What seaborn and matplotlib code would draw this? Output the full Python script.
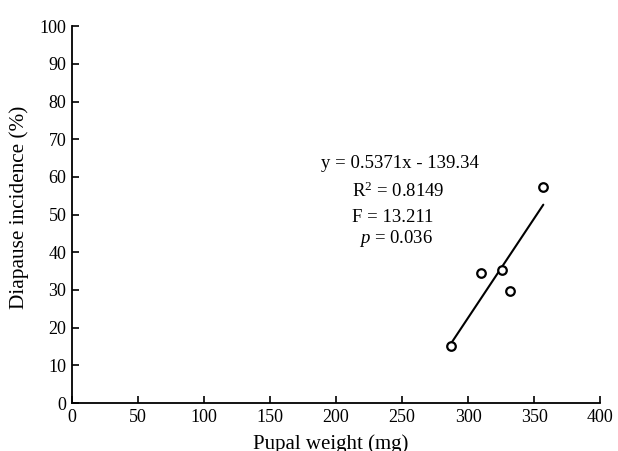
import matplotlib
matplotlib.use("Agg")
import matplotlib.pyplot as plt
import seaborn as sns
import pandas as pd

pupal_weight = [287, 310, 326, 332, 357]
diapause = [15.2, 34.6, 35.2, 29.7, 57.3]
x_ticks = [0, 50, 100, 150, 200, 250, 300, 350, 400]
y_ticks = [0, 10, 20, 30, 40, 50, 60, 70, 80, 90, 100]
eq_lines = ["y = 0.5371x - 139.34", "R$^{2}$ = 0.8149", "F = 13.211", "$p$ = 0.036"]

sns.set_style("ticks")
plt.rcParams['font.family'] = ['Liberation Serif', 'DejaVu Serif']
plt.rcParams['text.color'] = 'black'
plt.rcParams['axes.labelcolor'] = 'black'
plt.rcParams['mathtext.fontset'] = 'custom'
plt.rcParams['mathtext.rm'] = 'Liberation Serif'
plt.rcParams['mathtext.it'] = 'Liberation Serif:italic'

df = pd.DataFrame({"w": pupal_weight, "d": diapause})

fig = plt.figure(figsize=(6.18, 4.51), dpi=100)
ax = fig.add_axes([0.1165, 0.1064, 0.8545, 0.8356])

sns.regplot(data=df, x="w", y="d", ax=ax, ci=None, truncate=True,
            scatter_kws=dict(s=38, facecolors="white", edgecolors="black", linewidths=1.6,
                             zorder=3, alpha=1),
            line_kws=dict(color="black", lw=1.5), color="black")

ax.set_xlim(0, 400)
ax.set_ylim(0, 100)
ax.set_xticks(x_ticks)
ax.set_yticks(y_ticks)
ax.tick_params(direction="in", length=5, width=1.2, labelsize=13, colors="black", pad=4)
for s in ["top", "right"]:
    ax.spines[s].set_visible(False)
for s in ["left", "bottom"]:
    ax.spines[s].set_linewidth(1.3)
    ax.spines[s].set_color("black")
ax.set_xlabel("Pupal weight (mg)", fontsize=15)
ax.set_ylabel("Diapause incidence (%)", fontsize=15.3)
ax.xaxis.set_label_coords(0.489, -0.083)
ax.yaxis.set_label_coords(-0.081, 0.52)

xs = [248.5, 247, 243, 245.5]
ys = [62.3, 54.7, 48.1, 42.4]
for t, xv, yv in zip(eq_lines, xs, ys):
    ax.text(xv, yv, t, ha="center", va="baseline", fontsize=13.5, color="black")

fig.savefig("out.png", dpi=100)
